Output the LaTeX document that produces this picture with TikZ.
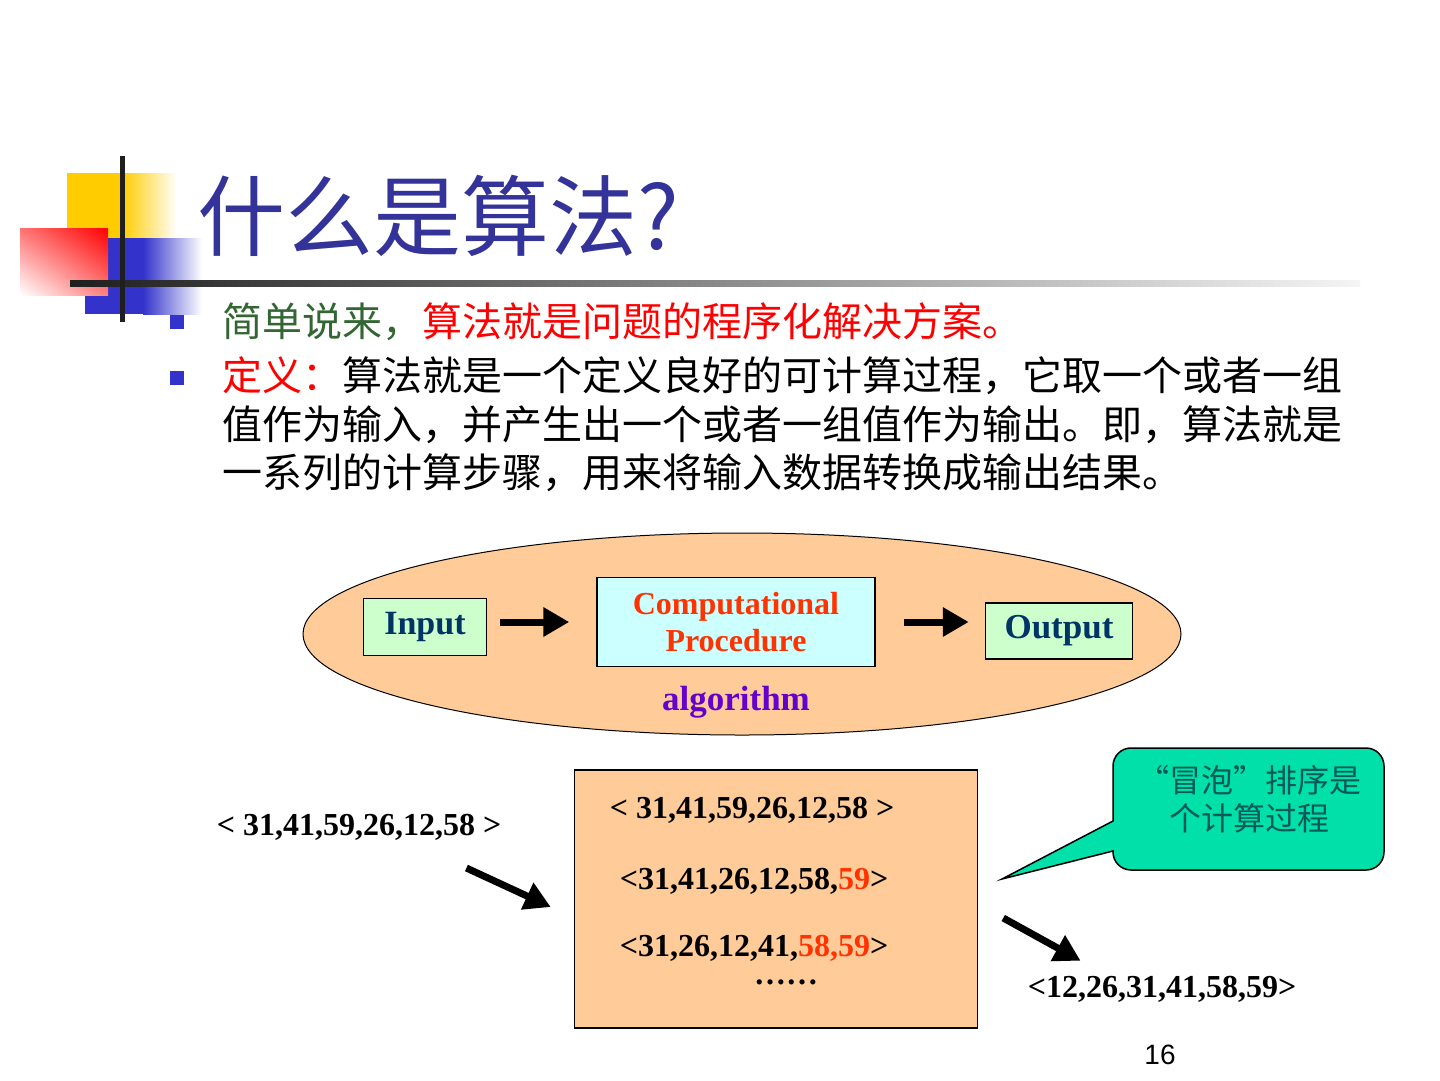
\documentclass[tikz,border=0pt]{standalone}
\usepackage{fontspec}
\setmainfont{Liberation Serif}
\newfontfamily\cjk{Noto Sans CJK SC}
\newfontfamily\pagefont{Liberation Sans}
\usepackage{tikz}
\usetikzlibrary{arrows.meta}
\usetikzlibrary{positioning}
\usetikzlibrary{shapes.geometric}
\usetikzlibrary{shadings}
\definecolor{titleblue}{HTML}{333399}
\definecolor{deckblue}{HTML}{3333CC}
\definecolor{sunyellow}{HTML}{FFCC00}
\definecolor{leafgreen}{HTML}{336633}
\definecolor{peach}{HTML}{FFCC99}
\definecolor{mint}{HTML}{CCFFCC}
\definecolor{icecyan}{HTML}{CCFFFF}
\definecolor{inknavy}{HTML}{003366}
\definecolor{hotred}{HTML}{FF3300}
\definecolor{algviolet}{HTML}{6600CC}
\definecolor{bubblefill}{HTML}{00E0A8}
\definecolor{bubbletext}{HTML}{005A5A}

\begin{document}
\begin{tikzpicture}[
x=1pt, y=-1pt,
cnline/.style={font=\cjk\fontsize{40}{48}\selectfont, inner sep=0, anchor=west},
seq/.style={font=\bfseries\fontsize{32}{36}\selectfont, inner sep=0},
box/.style={draw=black, line width=1.5pt, inner sep=0},
fat/.style={line width=7pt, -{Triangle[length=26pt,width=28pt]}}
]
\path[fill=white] (0,0) rectangle (1440,1080);
\useasboundingbox (0,0) rectangle (1440,1080);

\fill[sunyellow] (67,173) rectangle (122,283);
\shade[left color=sunyellow, right color=white] (122,173) rectangle (177,283);
\fill[deckblue] (85,238) rectangle (143,314);
\shade[left color=deckblue, right color=white] (143,238) rectangle (202,314);
\shade[upper left=red!55!white, upper right=red, lower left=white, lower right=red!50!white] (20,228) rectangle (108,295);
\shade[left color=black!88, right color=black!4] (70,280) rectangle (1360,286);
\fill[black!88] (120,156) rectangle (125,322);

\node[font=\cjk\fontsize{88}{100}\selectfont, text=titleblue, anchor=west, inner sep=0] (title) at (197,216) {什么是算法?};

\fill[deckblue] (170,315) rectangle (184,329);
\fill[deckblue] (170,371) rectangle (184,385);
\node[cnline] (line1) at (222,322) {\textcolor{leafgreen}{简单说来，}\textcolor{red}{算法就是问题的程序化解决方案。}};
\node[cnline] (line2) at (222,376) {\textcolor{red}{定义：}算法就是一个定义良好的可计算过程，它取一个或者一组};
\node[cnline] (line3) at (222,425) {值作为输入，并产生出一个或者一组值作为输出。即，算法就是};
\node[cnline] (line4) at (222,473) {一系列的计算步骤，用来将输入数据转换成输出结果。};

\node[draw, ellipse, fill=peach, line width=1pt, minimum width=878pt, minimum height=202pt, inner sep=0] (algo) at (742,634) {};
\node[box, fill=mint, minimum width=123pt, minimum height=57pt, font=\bfseries\fontsize{34}{38}\selectfont, text=inknavy] (inp) at (425,627) {Input};
\node[box, fill=icecyan, minimum width=278pt, minimum height=89pt, align=center, font=\bfseries\fontsize{32}{37}\selectfont, text=hotred] (comp) at (736,622) {Computational\\Procedure};
\node[box, fill=mint, minimum width=147pt, minimum height=56pt, font=\bfseries\fontsize{35}{38}\selectfont, text=inknavy] (outp) at (1059,631) {Output};
\node[below=19pt of comp, inner sep=0, font=\bfseries\fontsize{35}{38}\selectfont, text=algviolet] (algname) {algorithm};
\draw[fat] ([xshift=13]inp.east |- comp.west) -- ([xshift=-27]comp.west);
\draw[fat] ([xshift=28]comp.east) -- ([xshift=-16]outp.west |- comp.east);

\node[box, fill=peach, minimum width=403pt, minimum height=258pt] (sortbox) at (776,899) {};
\node[seq] (step0) at (752,810) {< 31,41,59,26,12,58 >};
\node[seq] (step1) at (754,881) {<31,41,26,12,58,\textcolor{hotred}{59}>};
\node[seq] (step2) at (754,948) {<31,26,12,41,\textcolor{hotred}{58,59}>};
\node[seq, text height=5pt, text depth=0pt, anchor=base] (dots) at (786,984) {……};
\node[seq] (seqin) at (359,827) {< 31,41,59,26,12,58 >};
\node[seq] (seqout) at (1162,989) {<12,26,31,41,58,59>};
\draw[fat] ([shift={(-35,41)}]seqin.east) -- ([shift={(-23,8)}]sortbox.west);
\draw[fat] ([shift={(25,19)}]sortbox.east) -- ([shift={(53,-15)}]seqout.north west);

\coordinate (tip) at (1002,879);
\draw[line width=1.5pt, fill=bubblefill] (1113,821) [rounded corners=18pt] -- (1113,748) -- (1384,748) -- (1384,870) -- (1113,870) [sharp corners] -- (1113,851) -- (tip) -- cycle;
\node[align=center, inner sep=0, font=\cjk\fontsize{32}{38}\selectfont, text=bubbletext] (bubble) at (1249,799) {“冒泡”排序是\\个计算过程};

\node[font=\pagefont\fontsize{28}{30}\selectfont, inner sep=0] (pagenum) at (1160,1055) {16};
\end{tikzpicture}
\end{document}
